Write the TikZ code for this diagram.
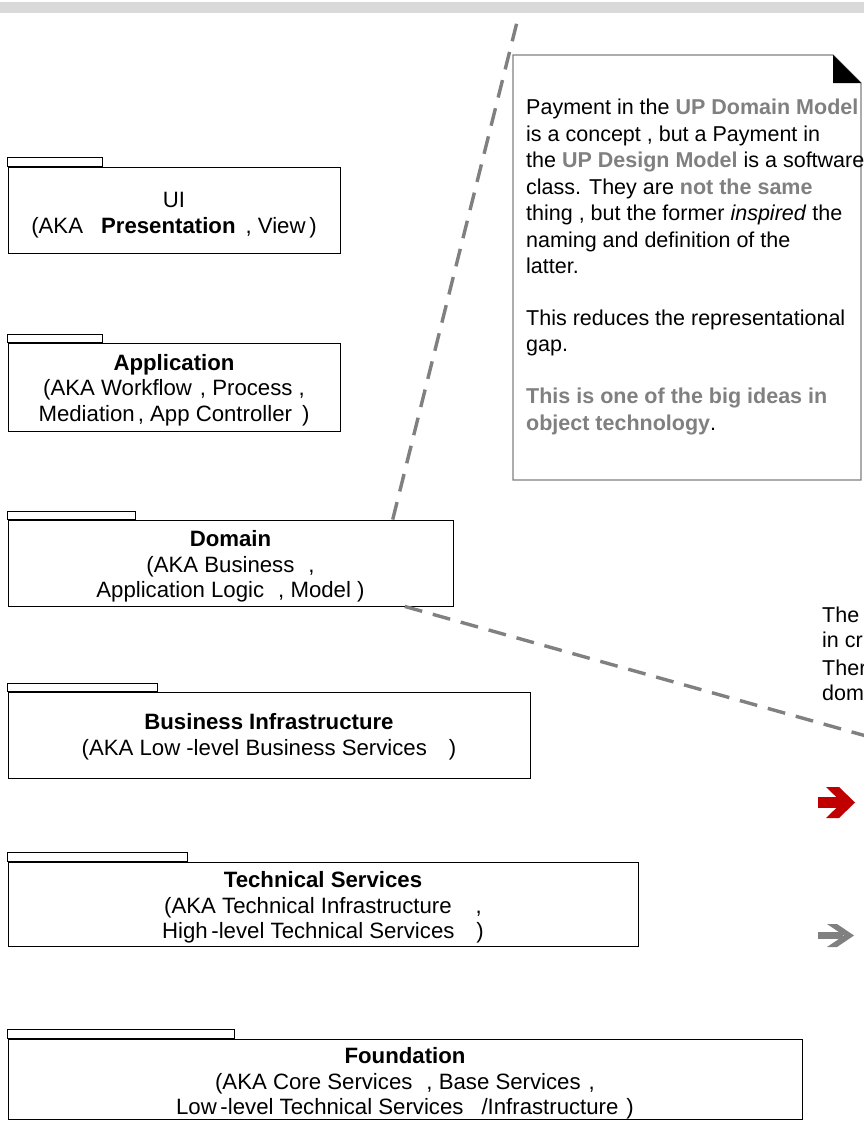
\documentclass[tikz,border=0pt]{standalone}
\usepackage{fontspec}
\setmainfont{Liberation Sans}
\usetikzlibrary{calc}
\definecolor{linegray}{HTML}{808080}
\definecolor{bandgray}{HTML}{D9D9D9}
\definecolor{notered}{HTML}{C00000}
\newcommand{\hl}[1]{\textcolor{linegray}{\textbf{#1}}}
\tikzset{
  pkgbody/.style={draw=black, line width=0.9pt, rectangle, inner sep=0pt},
  pkgtext/.style={align=center, inner sep=0pt, font=\fontsize{22.2}{25.5}\selectfont},
  pkgtab/.style={draw=black, line width=0.9pt},
  depline/.style={draw=linegray, line width=3.4pt, dash pattern=on 18pt off 11pt},
  notetext/.style={anchor=north west, align=left, inner sep=0pt,
    font=\fontsize{21.5}{26.5}\selectfont}
}
\begin{document}
\begin{tikzpicture}[x=1pt,y=-1pt]
\useasboundingbox (0,0) rectangle (864,1124);
\clip (0,0) rectangle (864,1124);
\fill[white] (0,0) rectangle (864,1124);
% grey band across the top
\fill[bandgray] (0,2) rectangle (864,13);

% layer package bodies
\node[pkgbody, minimum width=332pt, minimum height=86pt] (ui) at (174,210) {};
\node[pkgbody, minimum width=332pt, minimum height=88pt] (app) at (174,387) {};
\node[pkgbody, minimum width=445pt, minimum height=86pt] (dom) at (230.5,563) {};
\node[pkgbody, minimum width=522pt, minimum height=86pt] (binf) at (269,735) {};
\node[pkgbody, minimum width=630pt, minimum height=84pt] (tech) at (323,904) {};
\node[pkgbody, minimum width=794pt, minimum height=80pt] (found) at (405,1079) {};

% package tabs
\draw[pkgtab] (ui.north west) rectangle ++(95,-9);
\draw[pkgtab] (app.north west) rectangle ++(95,-8);
\draw[pkgtab] (dom.north west) rectangle ++(128,-8);
\draw[pkgtab] (binf.north west) rectangle ++(150,-8);
\draw[pkgtab] (tech.north west) rectangle ++(180,-9);
\draw[pkgtab] (found.north west) rectangle ++(227,-9);

% package names
\node[pkgtext] (uit) at ($(ui.center)+(0,5)$)
  {UI\\(AKA\hspace{18pt}\textbf{Presentation}\hspace{10pt}, View\,)};
\node[pkgtext] (appt) at ($(app.center)+(0,3)$)
  {\textbf{Application}\\(AKA Workflow\hspace{8pt}, Process ,\\Mediation\hspace{3pt}, App Controller\hspace{10pt})};
\node[pkgtext] (domt) at ($(dom.center)+(0,3.5)$)
  {\textbf{Domain}\\(AKA Business\hspace{14pt},\\Application Logic\hspace{14pt}, Model )};
\node[pkgtext] (binft) at ($(binf.center)+(0,1.5)$)
  {\textbf{Business Infrastructure}\\(AKA Low\hspace{6pt}-level Business Services\hspace{22pt})};
\node[pkgtext] (techt) at ($(tech.center)+(0,3.5)$)
  {\textbf{Technical Services}\\(AKA Technical Infrastructure\hspace{24pt},\\High\,-level Technical Services\hspace{22pt})};
\node[pkgtext] (foundt) at ($(found.center)+(0,4.5)$)
  {\textbf{Foundation}\\(AKA Core Services\hspace{14pt}, Base Services\hspace{8pt},\\Low\,-level Technical Services\hspace{18pt}/Infrastructure\hspace{8pt})};

% note with folded corner
\draw[linegray, line width=1.3pt, fill=white]
  (513,55) -- (833,55) -- (861,83) -- (861,480) -- (513,480) -- cycle;
\fill[black] (833,55) -- (833,83) -- (861,83) -- cycle;
\node[notetext] (note) at (526,99) {%
Payment in the \hl{UP Domain Model}\\
is a concept , but a Payment in\\
the \hl{UP Design Model} is a software\\
class. They are \hl{not the same}\\
thing , but the former \textit{inspired} the\\
naming and definition of the\\
latter.\\[25pt]
This reduces the representational\\
gap.\\[25.5pt]
\hl{This is one of the big ideas in}\\
\hl{object technology}.};

% second note, reaching beyond the right edge
\node[notetext, font=\fontsize{21.5}{25}\selectfont] (note2) at (822,607)
  {The\\in cr\\[3pt]Ther\\dom};

% dependency lines from the domain layer
\coordinate (upend) at (519,14);
\coordinate (rightend) at (884,741);
\draw[depline] (dom.15.6) -- (upend);
\draw[depline] (dom.-14.3) -- (rightend);

% bullet arrows
\fill[notered] (818,797) rectangle (842,808);
\fill[notered] (826,787) -- (839,787) -- (855,802.5) -- (839,818) -- (826,818) -- (842,802.5) -- cycle;
\fill[linegray] (818,932) rectangle (843,939);
\fill[linegray] (827,924) -- (837,924) -- (854,935.5) -- (837,947) -- (827,947) -- (844,935.5) -- cycle;
\end{tikzpicture}
\end{document}
